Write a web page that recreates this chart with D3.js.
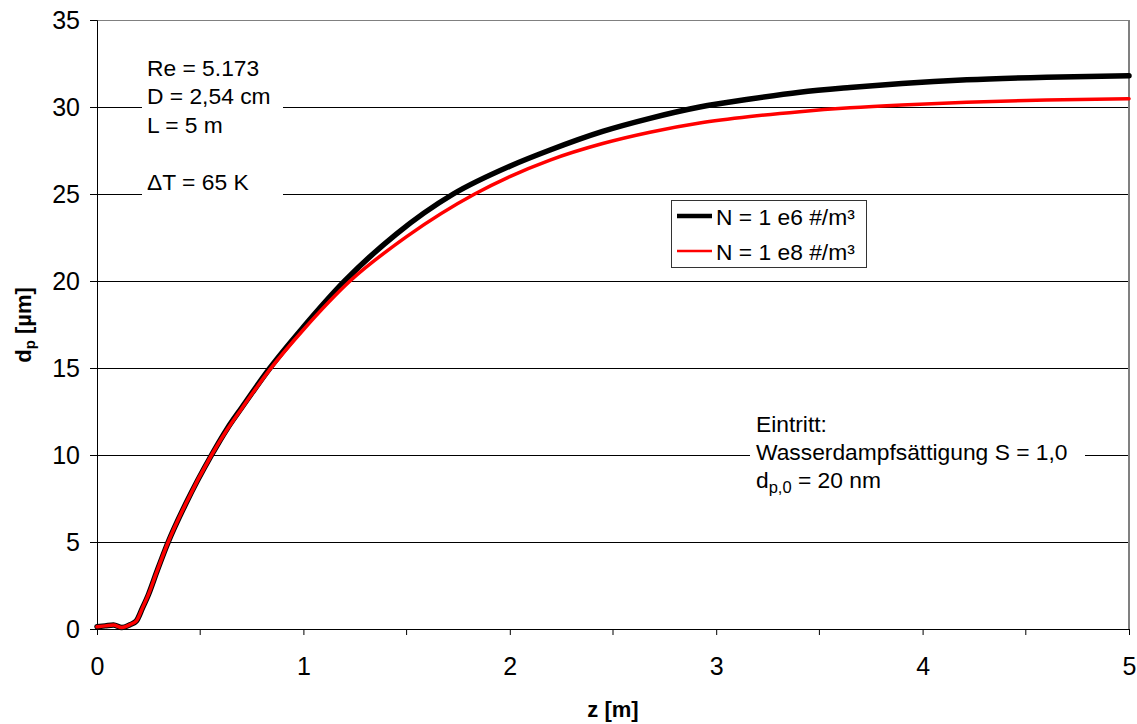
<!DOCTYPE html>
<html>
<head>
<meta charset="utf-8">
<script src="https://cdn.jsdelivr.net/npm/d3@7"></script>
<style>
  body { margin: 0; background: #fff; }
  svg { display: block; font-family: "Liberation Sans", Arial, sans-serif; }
</style>
</head>
<body>
<svg id="chart" width="1137" height="724"></svg>
<script>
// Particle diameter d_p [µm] along the tube position z [m]
const zN6 = [0, 0.04, 0.08, 0.12, 0.16, 0.19, 0.22, 0.25, 0.29, 0.345, 0.43, 0.555, 0.63, 0.7, 0.838, 1.0, 1.2, 1.45, 1.726, 2.0, 2.195, 2.45, 2.679, 2.92, 3.164, 3.405, 3.648, 3.9, 4.214, 4.6, 5.0];
const dN6 = [0.13, 0.18, 0.23, 0.08, 0.25, 0.45, 1.2, 2.0, 3.3, 5.0, 7.2, 10.0, 11.5, 12.7, 15.0, 17.35, 20.0, 22.7, 25.0, 26.6, 27.53, 28.6, 29.35, 30.0, 30.46, 30.85, 31.12, 31.35, 31.56, 31.71, 31.8];

const zN8 = [0, 0.04, 0.08, 0.12, 0.16, 0.19, 0.22, 0.25, 0.29, 0.345, 0.43, 0.555, 0.63, 0.7, 0.84, 1.0, 1.226, 1.5, 1.83, 2.0, 2.195, 2.45, 2.679, 2.92, 3.164, 3.405, 3.648, 3.9, 4.214, 4.6, 5.0];
const dN8 = [0.13, 0.18, 0.23, 0.08, 0.25, 0.45, 1.2, 2.0, 3.3, 5.0, 7.2, 10.0, 11.45, 12.65, 14.95, 17.2, 20.0, 22.55, 25.0, 26.0, 26.95, 27.9, 28.55, 29.08, 29.45, 29.73, 29.95, 30.12, 30.28, 30.4, 30.48];

const seriesNames = ["N = 1 e6 #/m³", "N = 1 e8 #/m³"];
const seriesColors = ["#000000", "#ff0000"];

const xTicks = [0, 1, 2, 3, 4, 5];
const xMinorTicks = [0.5, 1.5, 2.5, 3.5, 4.5];
const yTicks = [0, 5, 10, 15, 20, 25, 30, 35];

const infoLines = ["Re = 5.173", "D = 2,54 cm", "L = 5 m"];
const deltaLine = "ΔT = 65 K";

const svg = d3.select("#chart");
const plotLeft = 97, plotRight = 1129, plotTop = 20, plotBottom = 629;

const x = d3.scaleLinear().domain([0, 5]).range([plotLeft, plotRight]);
const y = d3.scaleLinear().domain([0, 35]).range([plotBottom, plotTop]);

// horizontal grid lines
svg.append("g").selectAll("line")
  .data(yTicks.filter(v => v > 0))
  .join("line")
  .attr("x1", plotLeft).attr("x2", plotRight)
  .attr("y1", d => y(d)).attr("y2", d => y(d))
  .attr("stroke", d => d === 35 ? "#808080" : "#000")
  .attr("stroke-width", 1)
  .attr("shape-rendering", "crispEdges");

// right frame edge
svg.append("line")
  .attr("x1", plotRight).attr("x2", plotRight).attr("y1", plotTop).attr("y2", plotBottom)
  .attr("stroke", "#808080").attr("stroke-width", 2)
  .attr("shape-rendering", "crispEdges");

// text panels that cut the grid lines
svg.append("rect").attr("x", 142).attr("y", 55).attr("width", 141).attr("height", 145).attr("fill", "#fff");
svg.append("rect").attr("x", 750).attr("y", 408).attr("width", 335).attr("height", 90).attr("fill", "#fff");

// y axis
const yAxis = d3.axisLeft(y).tickValues(yTicks).tickSize(7).tickPadding(10).tickFormat(d3.format("d"));
const gy = svg.append("g").attr("transform", `translate(${plotLeft},0)`).call(yAxis);
gy.select(".domain").attr("stroke", "#000");
gy.selectAll("text").attr("font-size", 25).attr("fill", "#000").attr("font-family", "Liberation Sans, Arial, sans-serif");

// x axis with minor ticks
const xAxis = d3.axisBottom(x).tickValues(xTicks).tickSize(6).tickPadding(22).tickFormat(d3.format("d"));
const gx = svg.append("g").attr("transform", `translate(0,${plotBottom})`).call(xAxis);
gx.select(".domain").attr("stroke", "#000");
gx.selectAll("text").attr("font-size", 25).attr("fill", "#000").attr("font-family", "Liberation Sans, Arial, sans-serif");
svg.append("g").selectAll("line").data(xMinorTicks).join("line")
  .attr("x1", d => x(d)).attr("x2", d => x(d))
  .attr("y1", plotBottom).attr("y2", plotBottom + 6)
  .attr("stroke", "#000");

// curves
const line = d3.line().x(d => x(d[0])).y(d => y(d[1])).curve(d3.curveMonotoneX);
const s6 = zN6.map((z, i) => [z, dN6[i]]);
const s8 = zN8.map((z, i) => [z, dN8[i]]);
svg.append("path").datum(s6).attr("d", line)
  .attr("fill", "none").attr("stroke", seriesColors[0]).attr("stroke-width", 5.5)
  .attr("stroke-linejoin", "round").attr("stroke-linecap", "round");
svg.append("path").datum(s8).attr("d", line)
  .attr("fill", "none").attr("stroke", seriesColors[1]).attr("stroke-width", 3.5)
  .attr("stroke-linejoin", "round").attr("stroke-linecap", "round");

// legend
const lg = svg.append("g");
lg.append("rect").attr("x", 671.5).attr("y", 200.5).attr("width", 195).attr("height", 67)
  .attr("fill", "#fff").attr("stroke", "#333").attr("stroke-width", 1);
seriesNames.forEach((name, i) => {
  const yy = 216 + i * 35;
  lg.append("line").attr("x1", 677).attr("x2", 712).attr("y1", yy).attr("y2", yy)
    .attr("stroke", seriesColors[i]).attr("stroke-width", i === 0 ? 4.5 : 2.5);
  lg.append("text").attr("x", 716).attr("y", yy + 9).attr("font-size", 22.8).text(name);
});

// annotations
const info = svg.append("g").attr("font-size", 22.8).attr("fill", "#000");
infoLines.forEach((t, i) => {
  info.append("text").attr("x", 147).attr("y", 76 + i * 28.3).text(t);
});
info.append("text").attr("x", 147).attr("y", 190).text(deltaLine);

const entry = svg.append("g").attr("font-size", 22.8).attr("fill", "#000");
entry.append("text").attr("x", 756).attr("y", 432).text("Eintritt:");
entry.append("text").attr("x", 756).attr("y", 460).text("Wasserdampfsättigung S = 1,0");
const t3 = entry.append("text").attr("x", 756).attr("y", 488);
t3.append("tspan").text("d");
t3.append("tspan").attr("font-size", 16.5).attr("dy", 5).text("p,0");
t3.append("tspan").attr("dy", -5).text(" = 20 nm");

// axis titles
svg.append("text").attr("x", 613).attr("y", 717).attr("text-anchor", "middle")
  .attr("font-size", 22).attr("font-weight", "bold").text("z [m]");
const yt = svg.append("text").attr("transform", "translate(31,325) rotate(-90)")
  .attr("text-anchor", "middle").attr("font-size", 22).attr("font-weight", "bold");
yt.append("tspan").text("d");
yt.append("tspan").attr("font-size", 15).attr("dy", 4).text("p");
yt.append("tspan").attr("dy", -4).text(" [µm]");
</script>
</body>
</html>
